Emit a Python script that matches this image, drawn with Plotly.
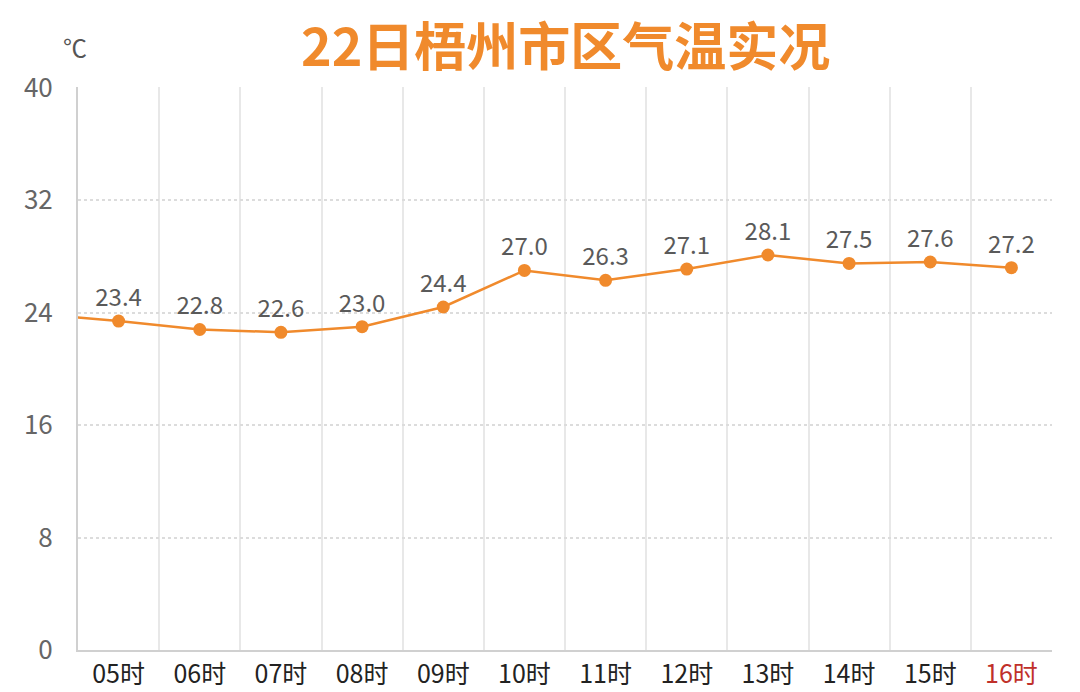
import plotly.graph_objects as go

# hourly readings; 04时 sits just off the left edge of the visible range
hours = ['04时', '05时', '06时', '07时', '08时', '09时', '10时', '11时', '12时', '13时', '14时', '15时', '16时']
temps = [23.9, 23.4, 22.8, 22.6, 23.0, 24.4, 27.0, 26.3, 27.1, 28.1, 27.5, 27.6, 27.2]
y_ticks = [0, 8, 16, 24, 32, 40]

orange = '#F08A2C'
font_name = 'Noto Sans CJK SC'

xs = list(range(-1, len(hours) - 1))
labels = [''] + ['%.1f' % t for t in temps[1:]]

tick_text = []
for i, h in enumerate(hours[1:]):
    if i == len(hours) - 2:
        tick_text.append("<span style='color:#C0302A'>" + h + "</span>")
    else:
        tick_text.append(h)

fig = go.Figure()
fig.add_trace(go.Scatter(
    x=xs, y=temps, mode='lines+markers+text',
    text=labels, textposition='top center',
    textfont=dict(family=font_name, size=24, color='#5a5a5a'),
    line=dict(color=orange, width=2.5),
    marker=dict(color=orange, size=13),
    cliponaxis=True, showlegend=False, hoverinfo='skip'))

fig.update_layout(
    width=1080, height=692,
    margin=dict(l=78, r=28, t=87, b=42, autoexpand=False),
    plot_bgcolor='white', paper_bgcolor='white',
    font=dict(family=font_name),
    xaxis=dict(
        range=[-0.5, len(hours) - 1.5], automargin=False,
        tickvals=list(range(len(hours) - 1)), ticktext=tick_text,
        tickfont=dict(size=25, color='#222222'),
        showgrid=False, zeroline=False,
        showline=True, linecolor='#d0d0d0', linewidth=2,
        ticks='', ticklabelstandoff=1,
        minor=dict(tickvals=[i - 0.5 for i in range(len(hours))], showgrid=True,
                   gridcolor='#e8e8e8', gridwidth=2, ticks=''),
    ),
    yaxis=dict(
        range=[0, 40.05], tickvals=y_ticks, automargin=False,
        tickfont=dict(size=26, color='#666666'),
        showgrid=True, gridcolor='#dcdcdc', gridwidth=1.5, griddash='dot',
        zeroline=False, showline=True, linecolor='#d0d0d0', linewidth=2,
        ticks='', ticklabelstandoff=18,
    ),
    annotations=[
        dict(text='<b>22日梧州市区气温实况</b>', xref='paper', yref='paper',
             x=0.5, y=1.078, xanchor='center', yanchor='middle', showarrow=False,
             font=dict(family=font_name, size=52, color=orange)),
        dict(text='℃', xref='paper', yref='paper', x=-0.003, y=1.072,
             xanchor='center', yanchor='middle', showarrow=False,
             font=dict(family=font_name, size=24, color='#555555')),
    ],
)

# drop the page's default body margin so the figure fills the window
fig.write_html('out.html', config={'displayModeBar': False},
               post_script="document.body.style.margin='0';document.body.style.overflow='hidden';")
